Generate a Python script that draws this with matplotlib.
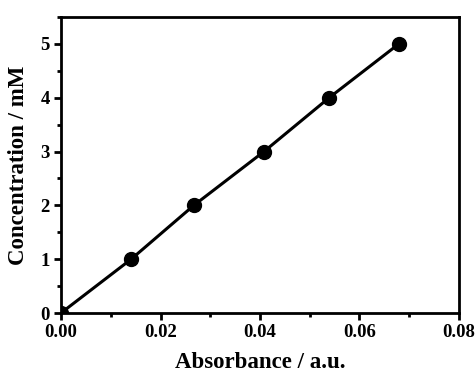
import matplotlib
matplotlib.use("Agg")
import matplotlib.pyplot as plt
from matplotlib.ticker import MultipleLocator, FormatStrFormatter

absorbance = [0.0, 0.0141, 0.0267, 0.0408, 0.0539, 0.0679]
concentration = [0, 1, 2, 3, 4, 5]

plt.rcParams['font.family'] = ['Liberation Serif', 'DejaVu Serif']
plt.rcParams['font.weight'] = 'bold'

fig = plt.figure(figsize=(4.77, 3.76), dpi=100)
ax = fig.add_axes([61/477, 1-313/376, 398/477, 296/376])

ax.plot(absorbance, concentration, color='black', lw=2.2, marker='o', ms=10, mfc='black', mec='black')

ax.set_xlim(0, 0.08)
ax.set_ylim(0, 5.5)
ax.xaxis.set_major_locator(MultipleLocator(0.02))
ax.xaxis.set_minor_locator(MultipleLocator(0.01))
ax.yaxis.set_major_locator(MultipleLocator(1))
ax.yaxis.set_minor_locator(MultipleLocator(0.5))
ax.xaxis.set_major_formatter(FormatStrFormatter('%.2f'))

for s in ax.spines.values():
    s.set_linewidth(2)
ax.tick_params(which='major', direction='out', length=5, width=2, labelsize=13.5, pad=3)
ax.tick_params(which='minor', direction='out', length=3, width=2)
for lbl in ax.get_xticklabels() + ax.get_yticklabels():
    lbl.set_fontweight('bold')

ax.set_xlabel('Absorbance / a.u.', fontsize=16.5, fontweight='bold', labelpad=8)
ax.set_ylabel('Concentration / mM', fontsize=16.5, fontweight='bold', labelpad=8)

fig.savefig('out.png', dpi=100)
